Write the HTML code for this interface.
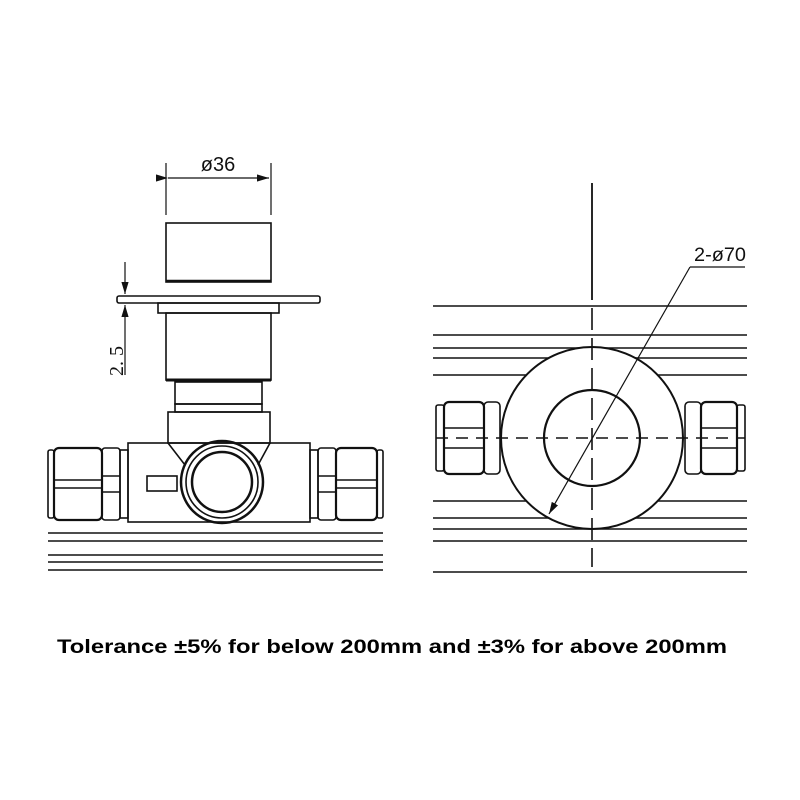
<!DOCTYPE html>
<html><head><meta charset="utf-8"><style>body{margin:0;background:#fff}svg{display:block}</style></head><body>
<svg width="800" height="800" viewBox="0 0 800 800" xmlns="http://www.w3.org/2000/svg" fill="none" stroke="#111" stroke-width="1.6">
<defs><marker id="a" markerWidth="10" markerHeight="6" refX="10" refY="3" orient="auto"><path d="M0,0 L10,3 L0,6 z" fill="#111" stroke="none"/></marker></defs>
<!-- LEFT VIEW -->
<line x1="166" y1="163" x2="166" y2="215" stroke-width="1.2"/>
<line x1="271" y1="163" x2="271" y2="215" stroke-width="1.2"/>
<line x1="168" y1="178" x2="269" y2="178" stroke-width="1.2" marker-start="url(#a)" marker-end="url(#a)"/>
<text x="218" y="171" font-family="Liberation Sans, sans-serif" font-size="20" fill="#111" stroke="none" text-anchor="middle">ø36</text>
<rect x="166" y="223" width="105" height="59"/>
<line x1="166" y1="281" x2="271" y2="281" stroke-width="2.5"/>
<rect x="117" y="296" width="203" height="7" rx="2"/>
<rect x="158" y="303" width="121" height="10"/>
<rect x="166" y="313" width="105" height="67"/>
<line x1="166" y1="380" x2="271" y2="380" stroke-width="3"/>
<rect x="175" y="382" width="87" height="22"/>
<rect x="175" y="404" width="87" height="8"/>
<rect x="168" y="412" width="102" height="31"/>
<line x1="125" y1="262" x2="125" y2="294" stroke-width="1.2" marker-end="url(#a)"/>
<line x1="125" y1="375" x2="125" y2="305" stroke-width="1.2" marker-end="url(#a)"/>
<text transform="translate(123,376) rotate(-90)" font-family="Liberation Serif, serif" font-size="20" fill="#111" stroke="none">2. 5</text>
<rect x="128" y="443" width="182" height="79"/>
<path d="M168 443 L185 465 M270 443 L258 465"/>
<rect x="147" y="476" width="30" height="15"/>
<circle cx="222" cy="482" r="41" stroke-width="2.5"/>
<circle cx="222" cy="482" r="36"/>
<circle cx="222" cy="482" r="30" stroke-width="2.5"/>
<!-- left fitting -->
<rect x="48" y="450" width="6" height="68" rx="2"/>
<rect x="54" y="448" width="48" height="72" rx="5" stroke-width="2.2"/>
<line x1="54" y1="480" x2="102" y2="480"/><line x1="54" y1="488" x2="102" y2="488"/>
<rect x="102" y="448" width="18" height="72" rx="3"/>
<line x1="102" y1="476" x2="120" y2="476"/><line x1="102" y1="492" x2="120" y2="492"/>
<rect x="120" y="450" width="8" height="68"/>
<!-- right fitting -->
<rect x="310" y="450" width="8" height="68"/>
<rect x="318" y="448" width="18" height="72" rx="3"/>
<line x1="318" y1="476" x2="336" y2="476"/><line x1="318" y1="492" x2="336" y2="492"/>
<rect x="336" y="448" width="41" height="72" rx="5" stroke-width="2.2"/>
<line x1="336" y1="480" x2="377" y2="480"/><line x1="336" y1="488" x2="377" y2="488"/>
<rect x="377" y="450" width="6" height="68" rx="2"/>
<g stroke-width="1.4">
<line x1="48" y1="533" x2="383" y2="533"/><line x1="48" y1="541" x2="383" y2="541"/>
<line x1="48" y1="555" x2="383" y2="555"/><line x1="48" y1="562" x2="383" y2="562"/><line x1="48" y1="570" x2="383" y2="570"/>
</g>
<!-- RIGHT VIEW -->
<g stroke-width="1.4">
<line x1="433" y1="306" x2="747" y2="306"/><line x1="433" y1="335" x2="747" y2="335"/>
<line x1="433" y1="348" x2="747" y2="348"/><line x1="433" y1="358" x2="747" y2="358"/>
<line x1="433" y1="375" x2="747" y2="375"/>
<line x1="433" y1="501" x2="747" y2="501"/><line x1="433" y1="518" x2="747" y2="518"/>
<line x1="433" y1="529" x2="747" y2="529"/><line x1="433" y1="541" x2="747" y2="541"/>
<line x1="433" y1="572" x2="747" y2="572"/>
</g>
<circle cx="592" cy="438" r="91" fill="#fff" stroke-width="2"/>
<circle cx="592" cy="438" r="48" stroke-width="2.2"/>
<line x1="592" y1="183" x2="592" y2="300" stroke-width="1.8"/>
<line x1="592" y1="308" x2="592" y2="567" stroke-width="1.6" stroke-dasharray="22,8"/>
<line x1="436" y1="438" x2="745" y2="438" stroke-width="1.6" stroke-dasharray="12,8"/>
<!-- right view fittings -->
<rect x="436" y="405" width="8" height="66" rx="2"/>
<rect x="444" y="402" width="40" height="72" rx="5" stroke-width="2.2"/>
<line x1="444" y1="428" x2="484" y2="428"/><line x1="444" y1="448" x2="484" y2="448"/>
<rect x="484" y="402" width="16" height="72" rx="4"/>
<rect x="685" y="402" width="16" height="72" rx="4"/>
<rect x="701" y="402" width="36" height="72" rx="5" stroke-width="2.2"/>
<line x1="701" y1="428" x2="737" y2="428"/><line x1="701" y1="448" x2="737" y2="448"/>
<rect x="737" y="405" width="8" height="66" rx="2"/>
<line x1="690" y1="267" x2="549" y2="514" stroke-width="1.2" marker-end="url(#a)"/>
<line x1="690" y1="267" x2="745" y2="267" stroke-width="1.2"/>
<text x="694" y="261" font-family="Liberation Sans, sans-serif" font-size="19" fill="#111" stroke="none" textLength="52" lengthAdjust="spacingAndGlyphs">2-ø70</text>
<text x="57" y="653" font-family="Liberation Sans, sans-serif" font-weight="bold" font-size="19" fill="#000" stroke="none" textLength="670" lengthAdjust="spacingAndGlyphs">Tolerance ±5% for below 200mm and ±3% for above 200mm</text>
</svg>
</body></html>
